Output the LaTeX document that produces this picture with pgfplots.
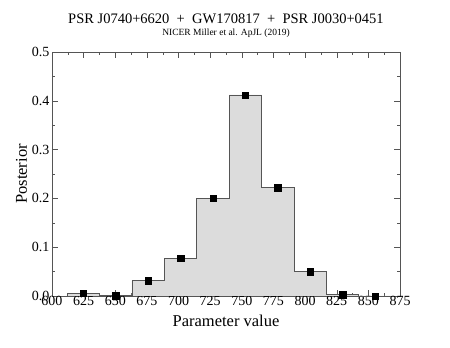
\documentclass[border=0pt]{standalone}
\usepackage{fontspec}
\setmainfont{Liberation Serif}
\usepackage{pgfplots}
\pgfplotsset{compat=1.18}
\definecolor{histfill}{RGB}{220,220,220}
\definecolor{histline}{RGB}{85,85,85}
\begin{document}
\begin{tikzpicture}
\useasboundingbox (0pt,0pt) rectangle (450pt,348pt);
\node[font=\fontsize{14.5}{16}\selectfont] at (226pt,329pt) {PSR J0740+6620\ \ +\ \ GW170817\ \ +\ \ PSR J0030+0451};
\node[font=\fontsize{9.5}{11}\selectfont] at (226pt,315pt) {NICER Miller et al. ApJL (2019)};
\begin{axis}[
  at={(52pt,52pt)},anchor=south west,
  scale only axis,width=348pt,height=244pt,
  xmin=600,xmax=875,ymin=0,ymax=0.5,
  xtick={600,625,...,875},ytick={0,0.1,...,0.5},
  minor x tick num=1,minor y tick num=1,
  tick align=inside,
  major tick length=6pt,minor tick length=3pt,
  axis line style={histline},
  every tick/.style={histline},
  /pgf/number format/assume math mode=true,
  xticklabel={\pgfmathprintnumber{\tick}},
  yticklabel={\pgfmathprintnumber[fixed,fixed zerofill,precision=1]{\tick}},
  tick label style={font=\fontsize{14}{15}\selectfont},
  y tick label style={xshift=1pt},
  x tick label style={yshift=3pt},
  xlabel={Parameter value},ylabel={Posterior},
  label style={font=\fontsize{16.5}{18}\selectfont},
  xlabel style={yshift=-2pt},
  ylabel style={yshift=-2pt},
  clip=false
]
\addplot[fill=histfill,draw=histline,line width=0.8pt] coordinates {
(612,0)(612,0.0055)(637.6,0.0055)(637.6,0.001)(663.2,0.001)(663.2,0.031)
(688.8,0.031)(688.8,0.077)(714.4,0.077)(714.4,0.2)(740,0.2)(740,0.412)
(765.6,0.412)(765.6,0.222)(791.2,0.222)(791.2,0.05)(816.8,0.05)(816.8,0.003)
(842.4,0.003)(842.4,0)(868,0)};
\addplot[only marks,mark=square*,mark size=3.2pt,black] coordinates {
(624.8,0.0055)(650.4,0.001)(676,0.031)(701.6,0.077)(727.2,0.2)
(752.8,0.412)(778.4,0.222)(804,0.05)(829.6,0.003)(855.2,0)};
\end{axis}
\end{tikzpicture}
\end{document}
